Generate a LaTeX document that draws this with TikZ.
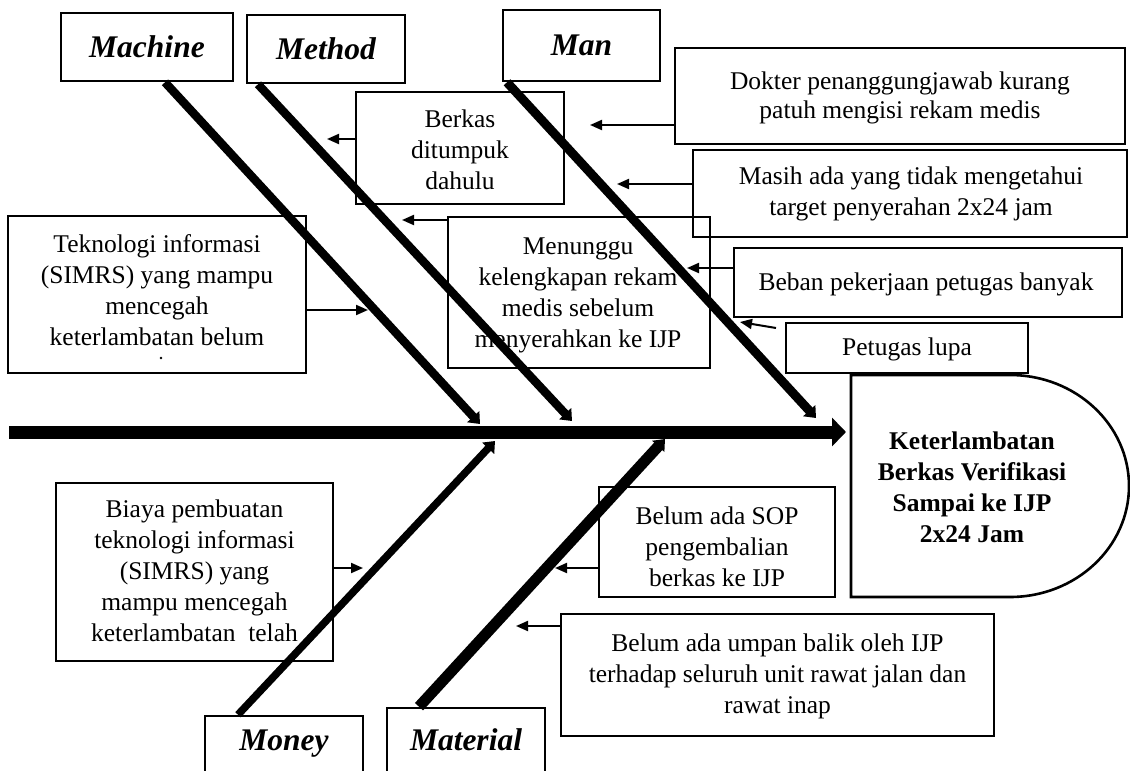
\documentclass[tikz,border=0pt]{standalone}
\usepackage{fontspec}
\setmainfont{Liberation Serif}
\usetikzlibrary{arrows.meta}
\begin{document}
\begin{tikzpicture}[x=1pt,y=-1pt,
  box/.style={draw=black, line width=2.6pt, inner sep=0pt},
  txt/.style={align=center, font=\fontsize{25.5}{31}\selectfont, inner sep=0pt},
  headtxt/.style={align=center, font=\fontsize{25.5}{31}\selectfont\bfseries, inner sep=0pt},
  lbl/.style={font=\fontsize{31.5}{34}\selectfont\bfseries\itshape, inner sep=0pt},
  bone/.style={line width=8.5pt, -{Triangle[length=10pt,width=16pt]}},
  arr/.style={line width=2pt, -{Triangle[length=12pt,width=10pt]}},
]
\useasboundingbox (0,0) rectangle (1130,771);

% category boxes
\node[box, minimum width=172pt, minimum height=68pt] (machine) at (147,47) {};
\node[box, minimum width=158pt, minimum height=68pt] (method) at (326,49) {};
\node[box, minimum width=157pt, minimum height=71pt] (man) at (581.5,45.5) {};
\node[box, minimum width=158pt, minimum height=84pt] (money) at (284,758) {};
\node[box, minimum width=158pt, minimum height=92pt] (material) at (466,754) {};

% cause boxes
\node[box, minimum width=450pt, minimum height=96pt] (dokter) at (900,96) {};
\node[box, minimum width=434pt, minimum height=87pt] (masih) at (910,193.5) {};
\node[box, minimum width=388pt, minimum height=69pt] (beban) at (928,282.5) {};
\node[box, minimum width=242pt, minimum height=50pt] (petugas) at (907,348) {};
\node[box, minimum width=208pt, minimum height=112pt] (berkas) at (460,148) {};
\node[box, minimum width=262pt, minimum height=151pt] (menunggu) at (579,292.5) {};
\node[box, minimum width=298pt, minimum height=157pt] (tek) at (157,294.5) {};
\node[box, minimum width=277pt, minimum height=178pt] (biaya) at (194.5,572) {};
\node[box, minimum width=236pt, minimum height=110pt] (sop) at (717,542) {};
\node[box, minimum width=433pt, minimum height=122pt] (umpan) at (777.5,675) {};

% head
\draw[line width=2.6pt] (851,375) -- (1010,375)
  arc[start angle=-90, end angle=90, x radius=119, y radius=111] -- (851,597) -- cycle;
\node[headtxt] (headT) at (972,487) {Keterlambatan\\Berkas Verifikasi\\Sampai ke IJP\\2x24 Jam};

% labels
\node[lbl] (machineT) at (machine.center) {Machine};
\node[lbl] (methodT) at (method.center) {Method};
\node[lbl] (manT) at (man.center) {Man};
\node[lbl] (moneyT) at (284,744) {Money};
\node[lbl] (materialT) at (466,740) {Material};

% texts
\node[txt, font=\fontsize{25.5}{29}\selectfont] (dokterT) at (900,98) {Dokter penanggungjawab kurang\\patuh mengisi rekam medis};
\node[txt] (masihT) at (911,194) {Masih ada yang tidak mengetahui\\target penyerahan 2x24 jam};
\node[txt] (bebanT) at (926,284) {Beban pekerjaan petugas banyak};
\node[txt] (petugasT) at (907,349) {Petugas lupa};
\node[txt] (berkasT) at (460,150) {Berkas\\ditumpuk\\dahulu};
\node[txt] (menungguT) at (578,295) {Menunggu\\kelengkapan rekam\\medis sebelum\\menyerahkan ke IJP};
\node[txt] (tekT) at (157,290) {Teknologi informasi\\(SIMRS) yang mampu\\mencegah\\keterlambatan belum};
\fill (161,358) circle[radius=1.4pt];
\node[txt] (biayaT) at (194.5,571) {Biaya pembuatan\\teknologi informasi\\(SIMRS) yang\\mampu mencegah\\keterlambatan\ \ telah};
\node[txt] (sopT) at (717,547) {Belum ada SOP\\pengembalian\\berkas ke IJP};
\node[txt] (umpanT) at (777.5,676) {Belum ada umpan balik oleh IJP\\terhadap seluruh unit rawat jalan dan\\rawat inap};

% bone tips on the spine
\coordinate (mcT) at (480,424);
\coordinate (meT) at (572,421);
\coordinate (maT) at (816,418);
\coordinate (moT) at (495,441);
\coordinate (mtT) at (665,439);
\coordinate (spineS) at (9,432);
\coordinate (spineE) at (846,432);

% bones
\draw[bone] ([xshift=18pt]machine.south) -- (mcT);
\draw[bone] ([xshift=-68pt]method.south) -- (meT);
\draw[bone, line width=9pt] ([xshift=-74.5pt]man.south) -- (maT);
\draw[bone, line width=7.5pt] ([xshift=-46pt]money.north) -- (moT);
\draw[bone, line width=11pt] ([xshift=-47pt]material.north) -- (mtT);
\draw[line width=13pt, -{Triangle[length=14pt,width=28pt]}] (spineS) -- (spineE);

% small cause arrows
\coordinate (aTek) at (368,310);
\coordinate (aBerkas) at (327,139);
\coordinate (aMenunggu) at (402,220);
\coordinate (aDokter) at (590,125);
\coordinate (aMasih) at (617,184);
\coordinate (aBeban) at (687,268);
\coordinate (aPetugasS) at (776,328);
\coordinate (aPetugas) at (740,322);
\coordinate (aBiaya) at (363,568);
\coordinate (aSop) at (555,568);
\coordinate (aUmpan) at (516,626);

\draw[arr] (tek.east |- aTek) -- (aTek);
\draw[arr] (berkas.west |- aBerkas) -- (aBerkas);
\draw[arr] (menunggu.west |- aMenunggu) -- (aMenunggu);
\draw[arr] (dokter.west |- aDokter) -- (aDokter);
\draw[arr] (masih.west |- aMasih) -- (aMasih);
\draw[arr] (beban.west |- aBeban) -- (aBeban);
\draw[arr] (aPetugasS) -- (aPetugas);
\draw[arr] (biaya.east |- aBiaya) -- (aBiaya);
\draw[arr] (sop.west |- aSop) -- (aSop);
\draw[arr] (umpan.west |- aUmpan) -- (aUmpan);
\end{tikzpicture}
\end{document}
